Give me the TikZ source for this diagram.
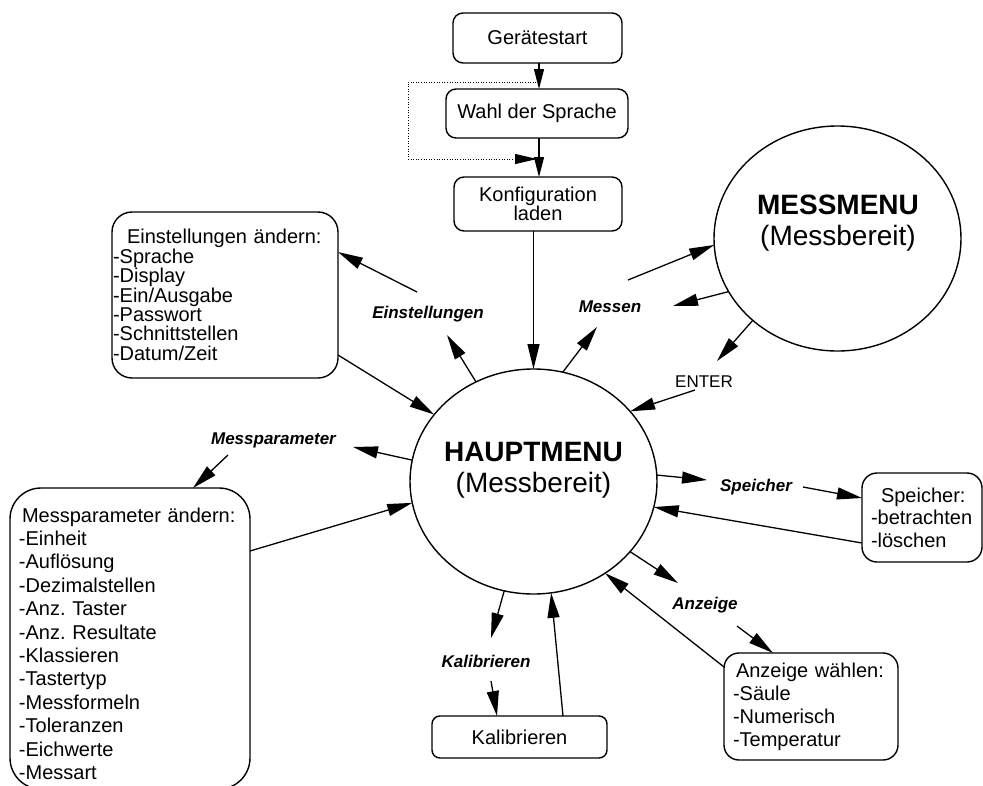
\documentclass[tikz,border=0pt]{standalone}
\usepackage{fontspec}
\setmainfont{Liberation Sans}
\usetikzlibrary{arrows.meta,shapes.geometric}
\newcommand\fsz[2]{\fontsize{#1}{#2}\selectfont\frenchspacing}
\begin{document}
\begin{tikzpicture}[x=1pt,y=-1pt, line width=1.4pt,
  >={Triangle[length=25pt,width=12pt]},
  box/.style={draw, rectangle, inner sep=0pt, outer sep=0pt},
  menu/.style={draw, ellipse, minimum width=247pt, minimum height=225pt, inner sep=0pt, outer sep=0pt},
  lbl/.style={font=\fsz{17}{20}\bfseries\itshape, inner sep=0pt},
  conn/.style={->, line width=1.3pt},
  shortconn/.style={-{Triangle[length=20pt,width=10pt]}, line width=1.3pt}]
\useasboundingbox (0,0) rectangle (983,785);

% top chain
\node[box, rounded corners=10pt, minimum width=169pt, minimum height=50pt, font=\fsz{20}{20}] (ger) at (537.5,38) {Gerätestart};
\node[box, rounded corners=10pt, minimum width=182pt, minimum height=49pt, font=\fsz{20}{20}] (wahl) at (537,113.5) {Wahl der Sprache};
\node[box, rounded corners=10pt, minimum width=168pt, minimum height=54pt, align=center, font=\fsz{20}{19.5}] (konf) at (538,204) {Konfiguration\\laden};

% menus
\node[menu] (haupt) at (533.5,481.5) {};
\node[align=center, inner sep=0pt, font=\fsz{28}{31}] (hauptt) at (533.5,470) {\textbf{HAUPTMENU}\\(Messbereit)};
\node[menu] (mess) at (837.5,238.5) {};
\node[align=center, inner sep=0pt, font=\fsz{28}{31}] (messt) at (838,223.5) {\textbf{MESSMENU}\\(Messbereit)};

% boxes
\node[box, rounded corners=20pt, minimum width=226pt, minimum height=166pt, text width=224pt, inner xsep=1pt, align=left, font=\fsz{20}{19.4}] (einst) at (225,295)
  {\hspace*{14pt}Einstellungen ändern:\\-Sprache\\-Display\\-Ein/Ausgabe\\-Passwort\\-Schnittstellen\\-Datum/Zeit};
\node[box, rounded corners=31pt, minimum width=240pt, minimum height=301pt, text width=222pt, inner xsep=9pt, align=left, font=\fsz{20}{23.4}] (mp) at (130,638.5)
  {\rule{0pt}{24.6pt}\hspace*{3pt}Messparameter ändern:\\-Einheit\\-Auflösung\\-Dezimalstellen\\-Anz. Taster\\-Anz. Resultate\\-Klassieren\\-Tastertyp\\-Messformeln\\-Toleranzen\\-Eichwerte\\-Messart};
\node[box, rounded corners=15pt, minimum width=120pt, minimum height=89pt, text width=102pt, inner xsep=9pt, align=left, font=\fsz{20}{22.5}] (spei) at (922,517.5)
  {\hspace*{10pt}Speicher:\\-betrachten\\-löschen};
\node[box, rounded corners=15pt, minimum width=174pt, minimum height=107pt, text width=156pt, inner xsep=9pt, align=left, font=\fsz{20}{23}] (anz) at (811,706.5)
  {\hspace*{3pt}Anzeige wählen:\\-Säule\\-Numerisch\\-Temperatur};
\node[box, rounded corners=8pt, minimum width=175pt, minimum height=42pt, font=\fsz{20}{20}] (kal) at (519.5,737) {Kalibrieren};

% labels
\node[lbl] (leinst) at (428,314) {Einstellungen};
\node[lbl] (lmessen) at (610,307) {Messen};
\node[font=\fsz{17}{20}, inner sep=0pt] (lenter) at (704,382) {ENTER};
\node[lbl] (lmp) at (273.5,440) {Messparameter};
\node[lbl] (lspei) at (756,487) {Speicher};
\node[lbl] (lanz) at (705,605) {Anzeige};
\node[lbl] (lkal) at (486,661) {Kalibrieren};

% top connectors
\coordinate (xa) at (539,0);
\draw[shortconn] (ger.south -| xa) -- (wahl.north -| xa);
\draw[shortconn] (wahl.south -| xa) -- (konf.north -| xa);
\coordinate (d0) at (539,82);
\coordinate (d1) at (408,82);
\coordinate (d2) at (408,159);
\coordinate (d3) at (537,159);
\draw[-{Triangle[length=22pt,width=10pt]}, line width=1pt, dash pattern=on 1pt off 1.6pt] (d0) -- (d1) -- (d2) -- (d3);
\draw[conn] (konf.south -| haupt.north) -- (haupt.north);

% Einstellungen
\coordinate (e1) at (447,335);
\draw[conn] (haupt.120.3) -- (e1);
\coordinate (e2) at (417,292);
\draw[conn] (e2) -- ([yshift=43pt]einst.east);
\draw[conn] ([yshift=-60pt]einst.east) -- (haupt.146.5);

% Messen
\coordinate (m1) at (597,327);
\draw[conn] (haupt.75.7) -- (m1);
\coordinate (m2) at (628,280);
\draw[conn] (m2) -- (mess.183);
\coordinate (m3) at (673,306);
\draw[conn] (mess.206.9) -- (m3);
\coordinate (m4) at (717,361);
\draw[conn] (mess.224.7) -- (m4);
\coordinate (m5) at (695,390);
\draw[conn] (m5) -- (haupt.36.5);

% Messparameter
\coordinate (p1) at (353,447);
\draw[conn] (haupt.170.6) -- (p1);
\coordinate (p2) at (228,455);
\draw[conn] (p2) -- ([xshift=183pt]mp.north west);
\draw[conn] ([yshift=-63pt]mp.north east) -- (haupt.190.3);

% Speicher
\coordinate (s1) at (707,480);
\draw[conn] (haupt.3.9) -- (s1);
\coordinate (s2) at (803,487);
\draw[conn] (s2) -- ([yshift=19.5pt]spei.west);
\draw[conn] ([yshift=-25.5pt]spei.west) -- (haupt.-12);

% Anzeige
\coordinate (a1) at (678,583);
\draw[conn] (haupt.-36) -- (a1);
\coordinate (a2) at (737,626);
\draw[conn] (a2) -- ([xshift=49pt]anz.north west);
\draw[conn] ([yshift=-14pt]anz.north west) -- (haupt.-52.3);

% Kalibrieren
\coordinate (k1) at (491,638);
\draw[conn] (haupt.255.4) -- (k1);
\coordinate (k2) at (491,681);
\draw[conn] (k2) -- ([xshift=65pt]kal.north west);
\draw[conn] ([xshift=131pt]kal.north west) -- (haupt.-81.5);
\end{tikzpicture}
\end{document}
